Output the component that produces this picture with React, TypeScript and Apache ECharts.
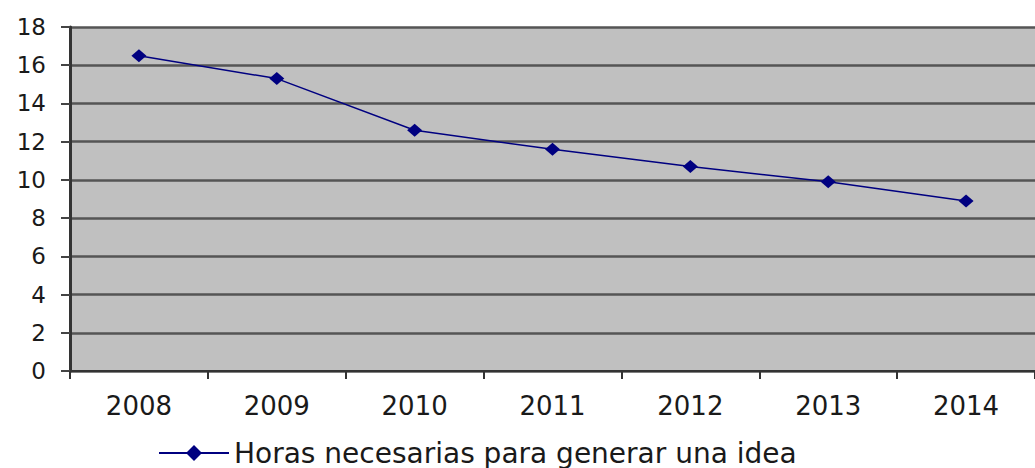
import React, { useEffect, useRef } from "react";
import * as echarts from "echarts";

const years = ["2008", "2009", "2010", "2011", "2012", "2013", "2014"];
const hours = [16.5, 15.3, 12.6, 11.6, 10.7, 9.9, 8.9];
const seriesName = "Horas necesarias para generar una idea";

const FONT = "DejaVu Sans, Liberation Sans, Arial, sans-serif";

export default function App() {
  const ref = useRef<HTMLDivElement>(null);
  useEffect(() => {
    if (!ref.current) return;
    const chart = echarts.init(ref.current, null, { renderer: "svg" });
    chart.setOption({
      animation: false,
      backgroundColor: "#ffffff",
      textStyle: { fontFamily: FONT },
      grid: {
        left: 70,
        top: 27,
        width: 973,
        height: 344,
        show: true,
        backgroundColor: "#c0c0c0",
        borderWidth: 0,
      },
      legend: {
        left: 158,
        top: 439,
        padding: 0,
        itemWidth: 70,
        itemHeight: 20,
        textStyle: { fontSize: 28, color: "#1a1a1a", fontFamily: FONT },
        data: [{ name: seriesName }],
      },
      xAxis: {
        type: "category",
        data: years,
        boundaryGap: true,
        axisLine: { show: true, lineStyle: { color: "#333", width: 2 } },
        axisTick: { show: true, inside: false, length: 8, lineStyle: { color: "#333", width: 2 } },
        axisLabel: { fontSize: 26, color: "#1a1a1a", margin: 22 },
        splitLine: { show: false },
      },
      yAxis: {
        type: "value",
        min: 0,
        max: 18,
        interval: 2,
        axisLine: { show: true, lineStyle: { color: "#333", width: 3 } },
        axisTick: { show: true, length: 9, lineStyle: { color: "#444", width: 2 } },
        axisLabel: { fontSize: 23, color: "#1a1a1a", margin: 24 },
        splitLine: { show: true, lineStyle: { color: "#555", width: 2.5 } },
      },
      series: [
        {
          name: seriesName,
          type: "line",
          data: hours,
          symbol: "diamond",
          symbolSize: [15, 13],
          lineStyle: { color: "#000080", width: 1.5 },
          itemStyle: { color: "#000080" },
        },
      ],
    });
    return () => chart.dispose();
  }, []);
  return (
    <div
      ref={ref}
      style={{ position: "fixed", left: 0, top: 0, width: 1035, height: 468 }}
    />
  );
}
